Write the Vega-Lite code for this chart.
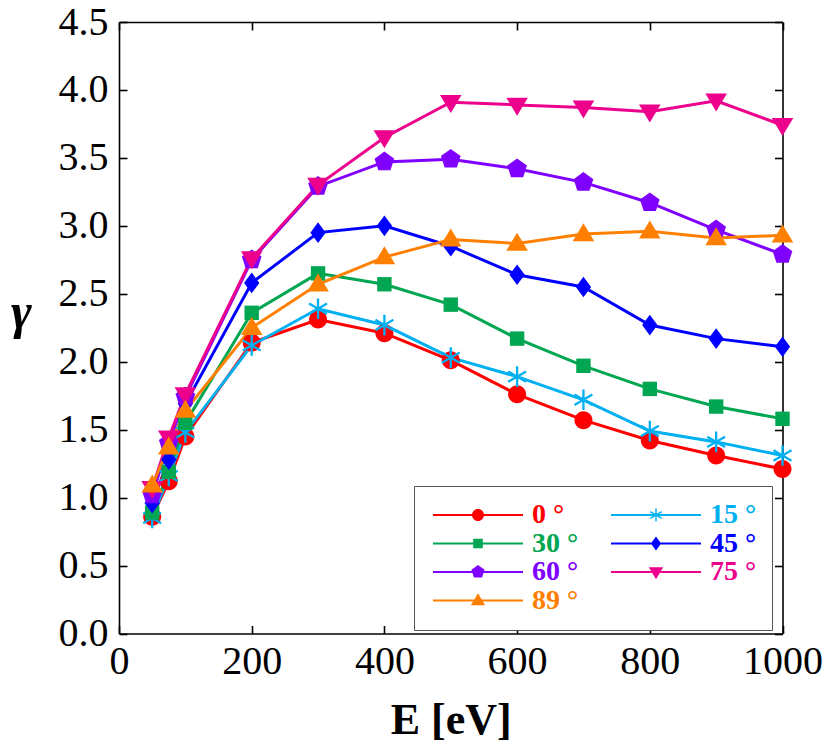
{
  "$schema": "https://vega.github.io/schema/vega-lite/v6.json",
  "width": 663.5,
  "height": 611.5,
  "autosize": {"type": "none"},
  "padding": {"left": 119, "top": 22, "right": 47.5, "bottom": 115.5},
  "background": "white",
  "config": {
    "view": {"stroke": null},
    "font": "Liberation Serif",
    "axis": {
      "labelFont": "Liberation Serif",
      "labelFontSize": 40,
      "labelColor": "black",
      "titleFont": "Liberation Serif",
      "titleColor": "black",
      "domainColor": "black",
      "domainWidth": 1.6,
      "tickColor": "black",
      "tickWidth": 1.6,
      "tickSize": -8,
      "grid": false
    }
  },
  "data": {
    "values": [
      {"a": "0", "E": 50, "g": 0.86}, {"a": "0", "E": 75, "g": 1.12}, {"a": "0", "E": 100, "g": 1.45}, {"a": "0", "E": 200, "g": 2.14},
      {"a": "0", "E": 300, "g": 2.31}, {"a": "0", "E": 400, "g": 2.21}, {"a": "0", "E": 500, "g": 2.01}, {"a": "0", "E": 600, "g": 1.76},
      {"a": "0", "E": 700, "g": 1.57}, {"a": "0", "E": 800, "g": 1.42}, {"a": "0", "E": 900, "g": 1.31}, {"a": "0", "E": 1000, "g": 1.21},
      {"a": "15", "E": 50, "g": 0.85}, {"a": "15", "E": 75, "g": 1.16}, {"a": "15", "E": 100, "g": 1.48}, {"a": "15", "E": 200, "g": 2.12},
      {"a": "15", "E": 300, "g": 2.39}, {"a": "15", "E": 400, "g": 2.27}, {"a": "15", "E": 500, "g": 2.03}, {"a": "15", "E": 600, "g": 1.89},
      {"a": "15", "E": 700, "g": 1.72}, {"a": "15", "E": 800, "g": 1.49}, {"a": "15", "E": 900, "g": 1.41}, {"a": "15", "E": 1000, "g": 1.31},
      {"a": "30", "E": 50, "g": 0.89}, {"a": "30", "E": 75, "g": 1.19}, {"a": "30", "E": 100, "g": 1.55}, {"a": "30", "E": 200, "g": 2.36},
      {"a": "30", "E": 300, "g": 2.65}, {"a": "30", "E": 400, "g": 2.57}, {"a": "30", "E": 500, "g": 2.42}, {"a": "30", "E": 600, "g": 2.17},
      {"a": "30", "E": 700, "g": 1.97}, {"a": "30", "E": 800, "g": 1.80}, {"a": "30", "E": 900, "g": 1.67}, {"a": "30", "E": 1000, "g": 1.58},
      {"a": "45", "E": 50, "g": 0.96}, {"a": "45", "E": 75, "g": 1.28}, {"a": "45", "E": 100, "g": 1.69}, {"a": "45", "E": 200, "g": 2.58},
      {"a": "45", "E": 300, "g": 2.95}, {"a": "45", "E": 400, "g": 3.00}, {"a": "45", "E": 500, "g": 2.85}, {"a": "45", "E": 600, "g": 2.64},
      {"a": "45", "E": 700, "g": 2.55}, {"a": "45", "E": 800, "g": 2.27}, {"a": "45", "E": 900, "g": 2.17}, {"a": "45", "E": 1000, "g": 2.11},
      {"a": "60", "E": 50, "g": 1.02}, {"a": "60", "E": 75, "g": 1.40}, {"a": "60", "E": 100, "g": 1.74}, {"a": "60", "E": 200, "g": 2.75},
      {"a": "60", "E": 300, "g": 3.29}, {"a": "60", "E": 400, "g": 3.47}, {"a": "60", "E": 500, "g": 3.49}, {"a": "60", "E": 600, "g": 3.42},
      {"a": "60", "E": 700, "g": 3.32}, {"a": "60", "E": 800, "g": 3.17}, {"a": "60", "E": 900, "g": 2.97}, {"a": "60", "E": 1000, "g": 2.79},
      {"a": "75", "E": 50, "g": 1.07}, {"a": "75", "E": 75, "g": 1.44}, {"a": "75", "E": 100, "g": 1.76}, {"a": "75", "E": 200, "g": 2.76},
      {"a": "75", "E": 300, "g": 3.30}, {"a": "75", "E": 400, "g": 3.65}, {"a": "75", "E": 500, "g": 3.91}, {"a": "75", "E": 600, "g": 3.89},
      {"a": "75", "E": 700, "g": 3.87}, {"a": "75", "E": 800, "g": 3.84}, {"a": "75", "E": 900, "g": 3.92}, {"a": "75", "E": 1000, "g": 3.74},
      {"a": "89", "E": 50, "g": 1.09}, {"a": "89", "E": 75, "g": 1.37}, {"a": "89", "E": 100, "g": 1.64}, {"a": "89", "E": 200, "g": 2.25},
      {"a": "89", "E": 300, "g": 2.57}, {"a": "89", "E": 400, "g": 2.77}, {"a": "89", "E": 500, "g": 2.90}, {"a": "89", "E": 600, "g": 2.87},
      {"a": "89", "E": 700, "g": 2.94}, {"a": "89", "E": 800, "g": 2.96}, {"a": "89", "E": 900, "g": 2.91}, {"a": "89", "E": 1000, "g": 2.93}
    ]
  },
  "resolve": {"scale": {"shape": "independent"}, "legend": {"color": "independent", "shape": "independent"}},
  "layer": [
    {
      "mark": {"type": "line", "strokeWidth": 3},
      "encoding": {
        "x": {"field": "E", "type": "quantitative", "scale": {"domain": [0, 1000], "nice": false, "zero": false},
          "axis": {"orient": "bottom", "title": "E [eV]", "titleFontSize": 44, "titleFontWeight": "bold", "titleBaseline": "alphabetic", "titleY": 100, "values": [0, 200, 400, 600, 800, 1000], "format": "d", "labelPadding": 16, "labelFlush": false}},
        "y": {"field": "g", "type": "quantitative", "scale": {"domain": [0, 4.5], "nice": false, "zero": false},
          "axis": {"orient": "left", "title": "γ", "titleFontSize": 50, "titleFontWeight": "bold", "titleFontStyle": "italic", "titleAngle": 0, "titleAlign": "center", "titleBaseline": "middle", "titleX": -98, "titleY": 290, "values": [0, 0.5, 1, 1.5, 2, 2.5, 3, 3.5, 4, 4.5], "format": ".1f", "labelPadding": 19, "labelFlush": false}},
        "color": {"field": "a", "type": "nominal", "legend": null,
          "scale": {"domain": ["0", "15", "30", "45", "60", "75", "89"], "range": ["#ff0000", "#00b0f0", "#00a651", "#0000ff", "#8000ff", "#ec008c", "#ff8000"]}}
      }
    },
    {
      "mark": {"type": "point", "filled": true, "size": 324, "opacity": 1},
      "encoding": {
        "x": {"field": "E", "type": "quantitative",
          "axis": {"orient": "top", "title": null, "labels": false, "values": [0, 200, 400, 600, 800, 1000]}},
        "y": {"field": "g", "type": "quantitative",
          "axis": {"orient": "right", "title": null, "labels": false, "values": [0, 0.5, 1, 1.5, 2, 2.5, 3, 3.5, 4, 4.5]}},
        "color": {"field": "a", "type": "nominal", "legend": null},
        "shape": {"field": "a", "type": "nominal", "legend": null,
          "scale": {"domain": ["0", "15", "30", "45", "60", "75", "89"],
            "range": [
              "M-1,0A1,1 0 1,1 1,0A1,1 0 1,1 -1,0Z",
              "M-0.13,-1.15H0.13V1.15H-0.13Z M0.93,0.687L-1.06,-0.463L-0.93,-0.687L1.06,0.463Z M1.06,-0.463L-0.93,0.687L-1.06,0.463L0.93,-0.687Z",
              "M-0.8,-0.8H0.8V0.8H-0.8Z",
              "M0,-1.15L0.85,0L0,1.15L-0.85,0Z",
              "M0,-1.15L1.094,-0.355L0.676,0.93L-0.676,0.93L-1.094,-0.355Z",
              "M-1.2,-0.8H1.2L0,1.2Z",
              "M-1.2,0.8L0,-1.2L1.2,0.8Z"
            ]}}
      }
    },
    {
      "transform": [{"filter": "datum.E < 0"}],
      "mark": {"type": "point", "filled": true, "size": 144, "opacity": 1},
      "encoding": {
        "color": {"field": "a", "type": "nominal",
          "legend": {
            "orient": "none", "legendX": 295, "legendY": 464, "columns": 2, "direction": "horizontal", "title": null,
            "strokeColor": "#555555", "fillColor": "white", "padding": 15,
            "symbolSize": 144, "symbolOffset": 35, "labelOffset": 40,
            "labelFont": "Liberation Serif", "labelFontSize": 28, "labelFontWeight": "bold",
            "labelColor": {"expr": "scale('color', datum.value)"},
            "labelExpr": "datum.label + ' °'", "rowPadding": 0.5, "columnPadding": 28
          }},
        "shape": {"field": "a", "type": "nominal",
          "scale": {"domain": ["0", "15", "30", "45", "60", "75", "89"],
            "range": [
              "M-1,0A1,1 0 1,1 1,0A1,1 0 1,1 -1,0Z M-7.5,-0.17H7.5V0.17H-7.5Z",
              "M-0.12,-1.1H0.12V1.1H-0.12Z M0.893,0.654L-1.013,-0.446L-0.893,-0.654L1.013,0.446Z M1.013,-0.446L-0.893,0.654L-1.013,0.446L0.893,-0.654Z M-7.5,-0.17H7.5V0.17H-7.5Z",
              "M-0.8,-0.8H0.8V0.8H-0.8Z M-7.5,-0.17H7.5V0.17H-7.5Z",
              "M0,-1.15L0.85,0L0,1.15L-0.85,0Z M-7.5,-0.17H7.5V0.17H-7.5Z",
              "M0,-1.15L1.094,-0.355L0.676,0.93L-0.676,0.93L-1.094,-0.355Z M-7.5,-0.17H7.5V0.17H-7.5Z",
              "M-1.2,-0.8H1.2L0,1.2Z M-7.5,-0.17H7.5V0.17H-7.5Z",
              "M-1.2,0.8L0,-1.2L1.2,0.8Z M-7.5,-0.17H7.5V0.17H-7.5Z"
            ]},
          "legend": {
            "orient": "none", "legendX": 295, "legendY": 464, "columns": 2, "direction": "horizontal", "title": null,
            "strokeColor": "#555555", "fillColor": "white", "padding": 15,
            "symbolSize": 144, "symbolOffset": 35, "labelOffset": 40,
            "labelFont": "Liberation Serif", "labelFontSize": 28, "labelFontWeight": "bold",
            "labelColor": {"expr": "scale('color', datum.value)"},
            "labelExpr": "datum.label + ' °'", "rowPadding": 0.5, "columnPadding": 28
          }}
      }
    }
  ]
}
